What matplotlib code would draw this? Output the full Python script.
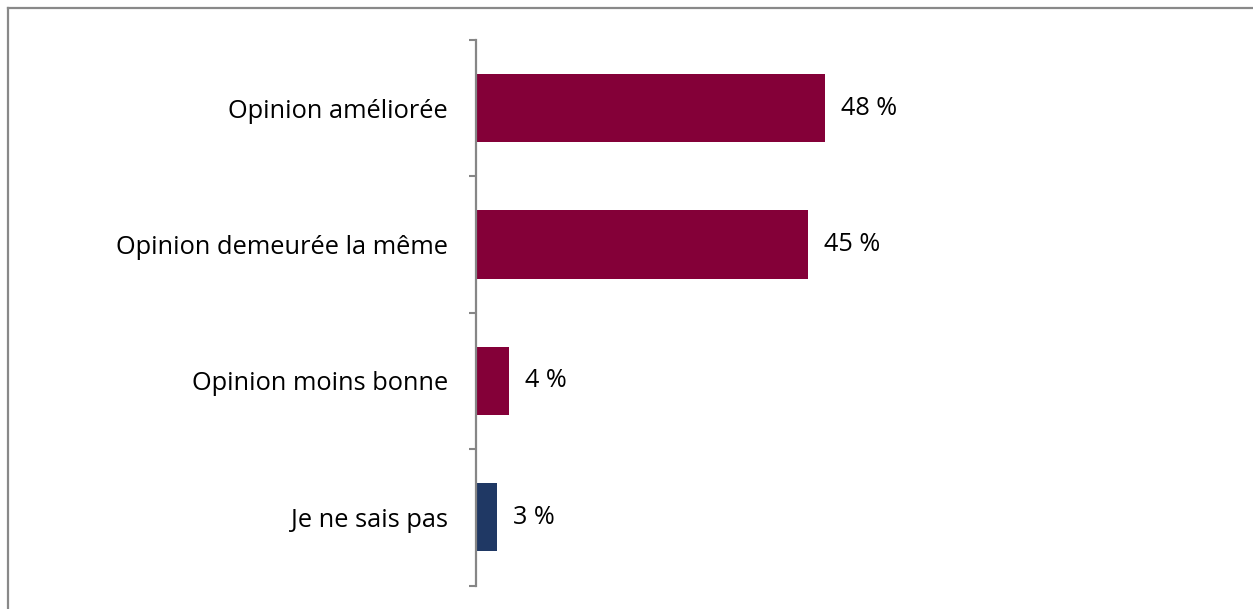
import matplotlib
matplotlib.use('Agg')
import matplotlib.pyplot as plt
from matplotlib.lines import Line2D

# donnees
categories = ['Opinion améliorée', 'Opinion demeurée la même',
              'Opinion moins bonne', 'Je ne sais pas']
values = [47.6, 45.2, 4.5, 2.8]
labels = ['48 %', '45 %', '4 %', '3 %']
colors = ['#840038', '#840038', '#840038', '#1F3864']

plt.rcParams['font.family'] = ['Open Sans', 'DejaVu Sans']

W, H = 1253, 609
fig = plt.figure(figsize=(W / 100, H / 100), dpi=100)
ax = fig.add_axes([476 / W, 1 - 585.5 / H, 734 / W, 545.5 / H])

y = list(range(len(categories) - 1, -1, -1))
ax.barh(y, values, height=0.5, color=colors, left=0)

for yi, v, lab in zip(y, values, labels):
    ax.annotate(lab, (v, yi), xytext=(11.5, 0), textcoords='offset points',
                va='center', ha='left', fontsize=18.2, color='black')

ax.set_xlim(0, 100)
ax.set_ylim(-0.5, len(categories) - 0.5)

# graduations entre les categories, libelles au centre
ax.set_yticks([i - 0.5 for i in range(len(categories) + 1)])
ax.set_yticklabels([])
ax.set_yticks(y, minor=True)
ax.set_yticklabels(categories, minor=True, fontsize=18.3)
ax.tick_params(axis='y', which='major', direction='out', length=5.2,
               width=1.5, color='#868686')
ax.tick_params(axis='y', which='minor', length=0, pad=20)
ax.set_xticks([])

for s in ['top', 'right', 'bottom']:
    ax.spines[s].set_visible(False)
ax.spines['left'].set_color('#868686')
ax.spines['left'].set_linewidth(1.6)

# cadre gris du graphique
fig.add_artist(Line2D([7.5 / W, 7.5 / W], [0, 1 - 7.5 / H],
                      transform=fig.transFigure, color='#898989', lw=1.6))
fig.add_artist(Line2D([7.5 / W, 1], [1 - 7.5 / H, 1 - 7.5 / H],
                      transform=fig.transFigure, color='#898989', lw=1.6))

fig.savefig('out.png', dpi=100)
